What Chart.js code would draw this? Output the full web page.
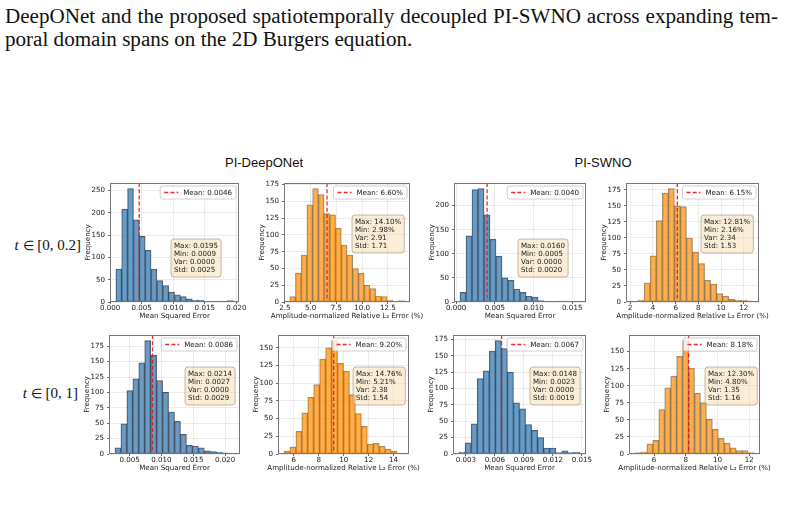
<!DOCTYPE html>
<html>
<head>
<meta charset="utf-8">
<script src="https://cdn.jsdelivr.net/npm/chart.js@4.4.0/dist/chart.umd.min.js"></script>
<style>
html, body { margin: 0; padding: 0; background: #fff; }
#root { position: relative; width: 788px; height: 507px; overflow: hidden; background: #fff; }
#root canvas { position: absolute; }
.cap { position: absolute; left: 5px; font-family: 'Liberation Serif', serif; font-size: 21.1px; line-height: 22px; color: #111; white-space: nowrap; }
.coltitle { position: absolute; font-family: 'Liberation Sans', Arial, sans-serif; font-size: 13px; line-height: 13px; color: #111; white-space: nowrap; transform: translateX(-50%); }
.rowlabel { position: absolute; font-family: 'Liberation Serif', serif; font-size: 15px; line-height: 15px; color: #111; white-space: nowrap; transform: translateX(-100%); }
</style>
</head>
<body>
<div id="root">
  <div class="cap" id="cap1" style="top:5px;">DeepONet and the proposed spatiotemporally decoupled PI-SWNO across expanding tem-</div>
  <div class="cap" id="cap2" style="top:28px;">poral domain spans on the 2D Burgers equation.</div>
</div>
<script>
// ---------------- data ----------------
const columnTitles = ['PI-DeepONet', 'PI-SWNO'];
const rowIntervals = ['[0, 0.2]', '[0, 1]'];
const mseTitle = 'Mean Squared Error';
const l2Title = 'Amplitude-normalized Relative L\u2082 Error (%)';
const yTitle = 'Frequency';

// histogram counts, 20 bins between Min and Max of each panel
const deeponetMseShort = [74, 208, 254, 184, 147, 116, 74, 48, 37, 22, 16, 12, 7, 4, 4, 1, 0, 2, 1, 3];
const deeponetL2Short  = [8, 43, 70, 145, 169, 160, 132, 130, 110, 85, 70, 50, 43, 25, 20, 9, 8, 3, 1, 2];
const swnoMseShort     = [20, 137, 233, 235, 181, 130, 95, 50, 45, 27, 20, 12, 10, 3, 0, 0, 2, 2, 0, 1];
const swnoL2Short      = [1, 3, 30, 72, 127, 170, 177, 150, 149, 100, 78, 60, 34, 28, 13, 9, 4, 3, 3, 2];
const deeponetMseLong  = [10, 49, 103, 122, 148, 184, 160, 119, 100, 68, 53, 32, 14, 13, 10, 5, 4, 3, 2, 1];
const deeponetL2Long   = [4, 10, 32, 58, 80, 98, 134, 150, 160, 128, 117, 84, 57, 39, 14, 15, 11, 7, 4, 1];
const swnoMseLong      = [3, 17, 46, 115, 127, 157, 173, 161, 125, 78, 69, 45, 36, 25, 9, 9, 2, 5, 2, 3];
const swnoL2Long       = [2, 3, 15, 20, 65, 97, 114, 143, 166, 126, 89, 75, 51, 36, 23, 16, 9, 5, 5, 2];

const meanValues = [0.0046, 6.60, 0.0040, 6.15, 0.0086, 9.20, 0.0067, 8.18];
const maxValues  = [0.0195, 14.10, 0.0160, 12.81, 0.0214, 14.76, 0.0148, 12.30];
const minValues  = [0.0009, 2.98, 0.0005, 2.16, 0.0027, 5.21, 0.0023, 4.80];
const varValues  = [0.0000, 2.91, 0.0000, 2.34, 0.0000, 2.38, 0.0000, 1.35];
const stdValues  = [0.0025, 1.71, 0.0020, 1.53, 0.0029, 1.54, 0.0019, 1.16];

const xTickValues = [
  [0, 0.005, 0.010, 0.015, 0.020],
  [2.5, 5.0, 7.5, 10.0, 12.5],
  [0, 0.005, 0.010, 0.015],
  [2, 4, 6, 8, 10, 12],
  [0.005, 0.010, 0.015, 0.020],
  [6, 8, 10, 12, 14],
  [0.003, 0.006, 0.009, 0.012, 0.015],
  [6, 8, 10, 12]
];
const yTickValues = [
  [0, 50, 100, 150, 200, 250],
  [0, 25, 50, 75, 100, 125, 150, 175],
  [0, 50, 100, 150, 200],
  [0, 25, 50, 75, 100, 125, 150, 175],
  [0, 25, 50, 75, 100, 125, 150, 175],
  [0, 25, 50, 75, 100, 125, 150],
  [0, 25, 50, 75, 100, 125, 150, 175],
  [0, 25, 50, 75, 100, 125, 150]
];
const countsList = [deeponetMseShort, deeponetL2Short, swnoMseShort, swnoL2Short,
                    deeponetMseLong, deeponetL2Long, swnoMseLong, swnoL2Long];
const metricKind = ['mse', 'l2', 'mse', 'l2', 'mse', 'l2', 'mse', 'l2'];
const xTickDecimals = [3, 1, 3, 0, 3, 0, 3, 0];

// ---------------- layout (pixels) ----------------
const panelBoxes = [
  {L: 110, T: 183, R: 239, B: 302, sx: 171, sy: 239},
  {L: 284, T: 183, R: 410, B: 302, sx: 352, sy: 215},
  {L: 454, T: 183, R: 586, B: 302, sx: 518, sy: 239},
  {L: 626, T: 183, R: 759, B: 302, sx: 701, sy: 215},
  {L: 109, T: 335, R: 240, B: 454, sx: 185, sy: 367},
  {L: 278, T: 335, R: 409, B: 454, sx: 353, sy: 367},
  {L: 453, T: 335, R: 586, B: 454, sx: 530, sy: 367},
  {L: 629, T: 335, R: 760, B: 454, sx: 705, sy: 367}
];
const colTitlePos = [{x: 264, y: 156}, {x: 603, y: 156}];
const rowLabelPos = [{x: 81, y: 238}, {x: 78, y: 386}];

const FONT = "'DejaVu Sans', sans-serif";
const FS = 7.1;
Chart.defaults.font.family = FONT;
Chart.defaults.font.size = FS;
Chart.defaults.color = '#222';
Chart.defaults.animation = false;

const root = document.getElementById('root');

// caption justification of the first line
(function () {
  const c1 = document.getElementById('cap1');
  const w = c1.getBoundingClientRect().width;
  const spaces = (c1.textContent.match(/ /g) || []).length;
  c1.style.wordSpacing = ((773 - w) / spaces) + 'px';
})();

columnTitles.forEach((t, i) => {
  const d = document.createElement('div');
  d.className = 'coltitle';
  d.style.left = colTitlePos[i].x + 'px';
  d.style.top = colTitlePos[i].y + 'px';
  d.textContent = t;
  root.appendChild(d);
});
rowIntervals.forEach((t, i) => {
  const d = document.createElement('div');
  d.className = 'rowlabel';
  d.style.left = rowLabelPos[i].x + 'px';
  d.style.top = rowLabelPos[i].y + 'px';
  d.innerHTML = '<i>t</i> <span style="font-size:13px">\u2208</span> ' + t;
  root.appendChild(d);
});

function makePanel(i) {
  const box = panelBoxes[i];
  const counts = countsList[i];
  const lo = minValues[i], hi = maxValues[i];
  const n = counts.length;
  const bw = (hi - lo) / n;
  const pts = counts.map((c, k) => ({x: lo + (k + 0.5) * bw, y: c}));
  const xmin = lo - 0.05 * (hi - lo), xmax = hi + 0.05 * (hi - lo);
  const ymax = 1.05 * Math.max(...counts);
  const isMse = metricKind[i] === 'mse';
  const dec = isMse ? 4 : 2;
  const suf = isMse ? '' : '%';

  const W = 32, padTop = 8, padRight = 28, xAxisH = 12, padBottom = 16;
  const cw = W + (box.R - box.L) + padRight;
  const ch = padTop + (box.B - box.T) + xAxisH + padBottom;
  const canvas = document.createElement('canvas');
  canvas.width = cw; canvas.height = ch;
  canvas.style.width = cw + 'px'; canvas.style.height = ch + 'px';
  canvas.style.left = (box.L - W) + 'px';
  canvas.style.top = (box.T - padTop) + 'px';
  root.appendChild(canvas);

  const deco = {
    id: 'deco' + i,
    afterDraw(chart) {
      const ctx = chart.ctx;
      const a = chart.chartArea;
      const xs = chart.scales.x;
      ctx.save();
      // mean line
      const mx = xs.getPixelForValue(meanValues[i]);
      ctx.strokeStyle = 'rgba(230,20,20,0.9)';
      ctx.lineWidth = 1.3;
      ctx.setLineDash([4, 2.2]);
      ctx.beginPath(); ctx.moveTo(mx, a.top); ctx.lineTo(mx, a.bottom); ctx.stroke();
      ctx.setLineDash([]);
      // frame
      ctx.strokeStyle = '#777';
      ctx.lineWidth = 1;
      ctx.strokeRect(a.left + 0.5, a.top + 0.5, a.right - a.left - 1, a.bottom - a.top - 1);
      // axis titles
      ctx.fillStyle = '#222';
      ctx.font = FS + 'px ' + FONT;
      ctx.textAlign = 'center'; ctx.textBaseline = 'middle';
      ctx.fillText(isMse ? mseTitle : l2Title, (a.left + a.right) / 2, a.bottom + 14);
      ctx.save();
      ctx.translate(a.left - 22, (a.top + a.bottom) / 2);
      ctx.rotate(-Math.PI / 2);
      ctx.fillText(yTitle, 0, 0);
      ctx.restore();
      // legend
      const legText = 'Mean: ' + meanValues[i].toFixed(dec) + suf;
      const tw = ctx.measureText(legText).width;
      const lw = 4 + 14 + 5 + tw + 4, lh = 13;
      const lx = a.right - 3 - lw, ly = a.top + 3;
      ctx.fillStyle = 'rgba(255,255,255,0.8)';
      ctx.strokeStyle = 'rgba(190,190,190,0.9)';
      ctx.lineWidth = 0.8;
      ctx.beginPath(); ctx.roundRect(lx, ly, lw, lh, 2); ctx.fill(); ctx.stroke();
      ctx.strokeStyle = 'rgba(230,20,20,0.9)';
      ctx.lineWidth = 1.3;
      ctx.setLineDash([4, 2.2]);
      ctx.beginPath(); ctx.moveTo(lx + 4, ly + lh / 2); ctx.lineTo(lx + 18, ly + lh / 2); ctx.stroke();
      ctx.setLineDash([]);
      ctx.fillStyle = '#222';
      ctx.textAlign = 'left';
      ctx.fillText(legText, lx + 23, ly + lh / 2 + 0.5);
      // statistics box
      const lines = [
        'Max: ' + maxValues[i].toFixed(dec) + suf,
        'Min: ' + minValues[i].toFixed(dec) + suf,
        'Var: ' + varValues[i].toFixed(dec),
        'Std: ' + stdValues[i].toFixed(dec)
      ];
      const mw = Math.max(...lines.map(t => ctx.measureText(t).width));
      const pad = 3, lineH = 8;
      const bx = box.sx - (box.L - W), by = box.sy - (box.T - padTop);
      const bwid = mw + 2 * pad, bhei = lines.length * lineH + 2 * pad;
      ctx.fillStyle = 'rgba(245,222,179,0.5)';
      ctx.strokeStyle = 'rgba(150,130,100,0.6)';
      ctx.lineWidth = 0.9;
      ctx.beginPath(); ctx.roundRect(bx, by, bwid, bhei, 3); ctx.fill(); ctx.stroke();
      ctx.fillStyle = '#222';
      lines.forEach((t, k) => ctx.fillText(t, bx + pad, by + pad + lineH * (k + 0.5) + 0.5));
      ctx.restore();
    }
  };

  new Chart(canvas, {
    type: 'bar',
    data: {
      datasets: [{
        data: pts,
        backgroundColor: isMse ? 'rgba(70,130,180,0.8)' : 'rgba(255,140,0,0.7)',
        borderColor: isMse ? 'rgba(20,35,55,0.75)' : 'rgba(90,60,30,0.6)',
        borderWidth: 0.8,
        borderSkipped: false,
        barPercentage: 1.0,
        categoryPercentage: 1.0
      }]
    },
    options: {
      responsive: false,
      devicePixelRatio: 1,
      animation: false,
      layout: {padding: {left: 0, top: padTop, right: padRight, bottom: padBottom}},
      plugins: {legend: {display: false}, tooltip: {enabled: false}},
      scales: {
        x: {
          type: 'linear', min: xmin, max: xmax, offset: false, bounds: 'data',
          grid: {offset: false, color: 'rgba(0,0,0,0.09)', lineWidth: 0.8, drawTicks: true, tickLength: 2, tickColor: '#444'},
          border: {display: false},
          ticks: {autoSkip: false, maxRotation: 0, minRotation: 0, padding: 0, color: '#222', font: {size: FS},
                  callback: v => Number(v).toFixed(xTickDecimals[i])},
          afterBuildTicks: s => { s.ticks = xTickValues[i].map(v => ({value: v})); },
          afterFit: s => { s.height = xAxisH; s.paddingLeft = 0; s.paddingRight = 0; }
        },
        y: {
          type: 'linear', min: 0, max: ymax, bounds: 'data',
          grid: {color: 'rgba(0,0,0,0.09)', lineWidth: 0.8, drawTicks: true, tickLength: 2, tickColor: '#444'},
          border: {display: false},
          ticks: {autoSkip: false, padding: 3, color: '#222', font: {size: FS},
                  callback: v => String(Math.round(v))},
          afterBuildTicks: s => { s.ticks = yTickValues[i].map(v => ({value: v})); },
          afterFit: s => { s.width = W; s.paddingTop = 0; s.paddingBottom = 0; }
        }
      }
    },
    plugins: [deco]
  });
}

for (let i = 0; i < 8; i++) makePanel(i);
</script>
</body>
</html>
